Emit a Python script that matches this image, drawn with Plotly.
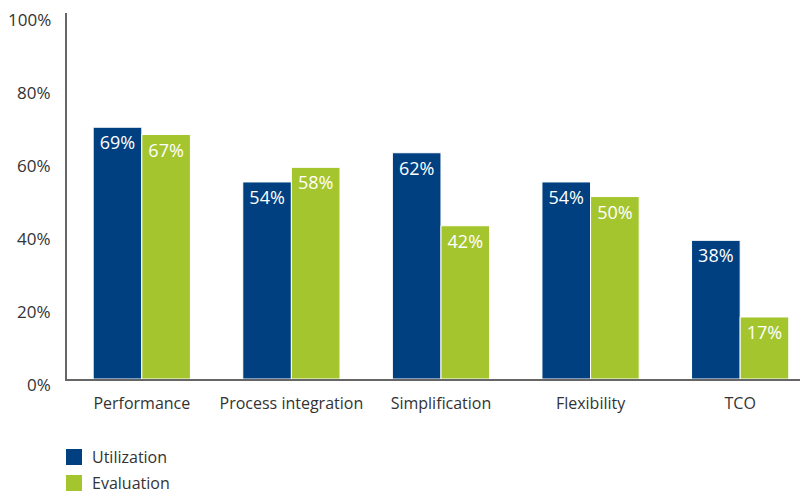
import plotly.graph_objects as go

categories = ["Performance", "Process integration", "Simplification", "Flexibility", "TCO"]
utilization = [69, 54, 62, 54, 38]
evaluation = [67, 58, 42, 50, 17]
y_ticks = [0, 20, 40, 60, 80, 100]

BLUE = "#003f80"
GREEN = "#a5c52f"
FONT = "Open Sans"
series = [("Utilization", utilization, BLUE), ("Evaluation", evaluation, GREEN)]

PLOT_L, PLOT_T, PLOT_B, PLOT_W, PLOT_H = 67, 13, 116, 733, 366

fig = go.Figure()
for name, vals, color in series:
    fig.add_trace(go.Bar(
        name=name, x=categories, y=vals,
        marker=dict(color=color, line=dict(color="white", width=1)),
        text=[f"{v}%" for v in vals],
        textposition="inside", insidetextanchor="end",
        textfont=dict(color="white", size=18, family=FONT),
        textangle=0,
    ))

# percentage labels along the value axis, sitting slightly below each tick value
for v in y_ticks:
    fig.add_annotation(text=f"{v}%", xref="paper", yref="y", x=0, y=v,
                       xanchor="right", yanchor="middle", xshift=-14, yshift=-5,
                       showarrow=False, font=dict(size=17, color="#333333", family=FONT))

# legend drawn below the plot: colour square plus label per series
bottom = PLOT_T + PLOT_H
for i, (name, _, color) in enumerate(series):
    y0 = 449 + i * 26
    fig.add_shape(type="rect", xref="paper", yref="paper",
                  x0=(66 - PLOT_L) / PLOT_W, x1=(82 - PLOT_L) / PLOT_W,
                  y0=(bottom - y0 - 16) / PLOT_H, y1=(bottom - y0) / PLOT_H,
                  fillcolor=color, line=dict(width=0))
    fig.add_annotation(text=name, xref="paper", yref="paper",
                       x=(90 - PLOT_L) / PLOT_W, y=(bottom - y0 - 8) / PLOT_H,
                       xanchor="left", yanchor="middle", showarrow=False,
                       font=dict(size=16, color="#333333", family=FONT))

fig.update_layout(
    width=801, height=495,
    margin=dict(l=PLOT_L, r=801 - PLOT_L - PLOT_W, t=PLOT_T, b=PLOT_B, autoexpand=False),
    paper_bgcolor="white", plot_bgcolor="white",
    barmode="group", bargap=0.35, bargroupgap=0,
    font=dict(family=FONT, size=16, color="#333333"),
    showlegend=False,
    xaxis=dict(
        range=[-0.5, 4.40], showline=True, linecolor="#666666", linewidth=1.5,
        ticks="", showgrid=False, ticklabelstandoff=9, tickangle=0, automargin=False,
    ),
    yaxis=dict(
        range=[0, 100.3], showticklabels=False,
        showline=True, linecolor="#666666", linewidth=1.5, ticks="",
        showgrid=False, zeroline=False, automargin=False,
    ),
)

fig.write_html("out.html")
